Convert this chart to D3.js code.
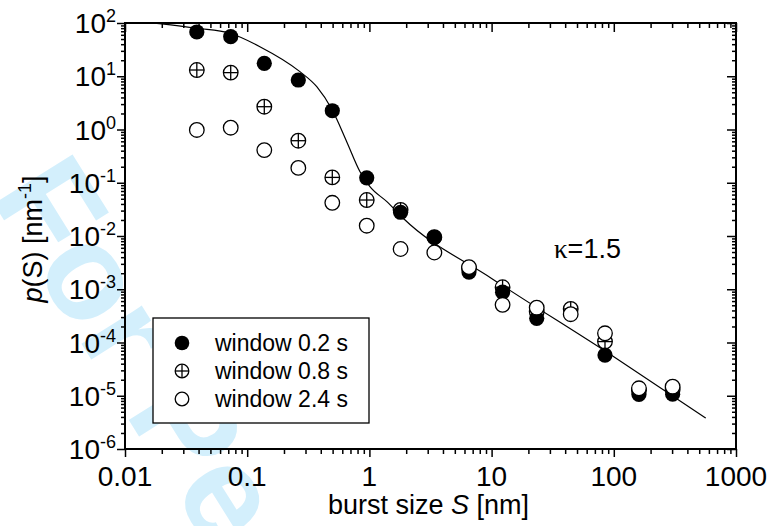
<!DOCTYPE html>
<html lang="en">
    <head>
        <meta charset="utf-8">
        <title>Burst size distribution</title>
        <script src="https://cdn.jsdelivr.net/npm/d3@7"></script>
    </head>
    <style>
        body { margin: 0; background: white; }
        text { font-family: "Liberation Sans", Arial, sans-serif; fill: black; }
    </style>
    <body>
        <script type="text/javascript">

            // burst sizes S [nm] (same bins for every window)
            var sizes = [0.0387, 0.0733, 0.138, 0.262, 0.497, 0.951, 1.80, 3.40, 6.53, 12.3, 23.4, 44.4, 84.7, 160.6, 303];

            // p(S) [nm^-1] per window, null = no point
            var p02 = [67.8, 55.3, 17.5, 8.5, 2.25, 0.124, 0.0279, 0.0094, 0.0021, 0.00088, 0.000285, null, 5.8e-5, 1.06e-5, 1.07e-5];
            var p08 = [13.1, 11.7, 2.68, 0.616, 0.126, 0.0474, 0.031, 0.0095, 0.0025, 0.00109, 3.8e-4, 4.26e-4, 1.04e-4, 1.25e-5, 1.3e-5];
            var p24 = [0.98, 1.08, 0.41, 0.19, 0.042, 0.0156, 0.0057, 0.0049, 0.0026, 0.00051, 4.5e-4, 3.4e-4, 1.49e-4, 1.38e-5, 1.48e-5];

            // fit curve (kappa = 1.5)
            var fitS = [0.015, 0.0387, 0.0723, 0.127, 0.270, 0.371, 0.497, 0.652, 0.838, 1.01, 1.39, 1.89, 10, 100, 565];
            var fitP = [104, 79.6, 64.1, 35.9, 12.2, 6.36, 2.32, 0.59, 0.161, 0.0843, 0.0441, 0.0215, 1.6e-3, 5.4e-5, 3.8e-6];

            var xTicks = [0.01, 0.1, 1, 10, 100, 1000];
            var xTickLabels = ["0.01", "0.1", "1", "10", "100", "1000"];
            var yExponents = [-6, -5, -4, -3, -2, -1, 0, 1, 2];

            var legendLabels = ["window 0.2 s", "window 0.8 s", "window 2.4 s"];

            var w = 768, h = 526;
            var pL = 125, pR = 736, pT = 23, pB = 449;   // plot frame

            var svg = d3.select("body").append("svg").attr("width", w).attr("height", h);

            // watermark
            svg.append("text")
                .text("For Peer Review")
                .attr("transform", "translate(-11,196) rotate(58)")
                .style("font-size", "135px")
                .style("font-weight", "bold")
                .style("fill", "#d3effc");

            var x = d3.scaleLog().domain([0.01, 1000]).range([pL, pR]);
            var y = d3.scaleLog().domain([1e-6, 100]).range([pB, pT]);

            // minor tick values
            var xMinor = [], yMinor = [];
            for (var e = -2; e < 3; e++) for (var k = 2; k < 10; k++) xMinor.push(k * Math.pow(10, e));
            for (var e = -6; e < 2; e++) for (var k = 2; k < 10; k++) yMinor.push(k * Math.pow(10, e));
            var yMajor = yExponents.map(function(d) { return Math.pow(10, d); });

            function ticks(g, axisFn, scale, vals, len) {
                g.append("g").call(axisFn(scale).tickValues(vals).tickSize(len).tickFormat(""));
            }

            // bottom & left: ticks outward, top & right: ticks inward
            var gB = svg.append("g").attr("transform", "translate(0," + pB + ")");
            ticks(gB, d3.axisBottom, x, xMinor, 5);
            ticks(gB, d3.axisBottom, x, xTicks, 8);
            var gT = svg.append("g").attr("transform", "translate(0," + pT + ")");
            ticks(gT, d3.axisBottom, x, xMinor, 5);
            ticks(gT, d3.axisBottom, x, xTicks, 9);
            var gL = svg.append("g").attr("transform", "translate(" + pL + ",0)");
            ticks(gL, d3.axisLeft, y, yMinor, 4);
            ticks(gL, d3.axisLeft, y, yMajor, 8);
            var gR = svg.append("g").attr("transform", "translate(" + pR + ",0)");
            ticks(gR, d3.axisLeft, y, yMinor, 4);
            ticks(gR, d3.axisLeft, y, yMajor, 9);

            svg.selectAll(".domain").remove();
            svg.selectAll(".tick line").attr("stroke", "black").attr("stroke-width", 1.5);

            // frame
            svg.append("rect")
                .attr("x", pL).attr("y", pT)
                .attr("width", pR - pL).attr("height", pB - pT)
                .attr("fill", "none").attr("stroke", "black").attr("stroke-width", 2);

            // x tick labels
            svg.selectAll("text.xlab").data(xTicks).enter().append("text")
                .attr("class", "xlab")
                .attr("x", function(d) { return x(d); })
                .attr("y", 486)
                .attr("text-anchor", "middle")
                .style("font-size", "28px")
                .text(function(d, i) { return xTickLabels[i]; });

            // y tick labels 10^n
            var yl = svg.selectAll("text.ylab").data(yExponents).enter().append("text")
                .attr("class", "ylab")
                .attr("x", 116)
                .attr("y", function(d) { return y(Math.pow(10, d)) + 10; })
                .attr("text-anchor", "end")
                .style("font-size", "28px");
            yl.append("tspan").text("10");
            yl.append("tspan").attr("dy", -11).style("font-size", "18px").text(function(d) { return d; });

            // axis titles
            var xt = svg.append("text").attr("x", 328).attr("y", 514).style("font-size", "27px");
            xt.append("tspan").text("burst size ");
            xt.append("tspan").style("font-style", "italic").text("S");
            xt.append("tspan").text(" [nm]");

            var yt = svg.append("text")
                .attr("transform", "translate(42,239) rotate(-90)")
                .attr("text-anchor", "middle")
                .style("font-size", "27px");
            yt.append("tspan").style("font-style", "italic").text("p");
            yt.append("tspan").text("(S) [nm");
            yt.append("tspan").attr("dy", -11).style("font-size", "18px").text("-1");
            yt.append("tspan").attr("dy", 11).text("]");

            // kappa
            var kt = svg.append("text").attr("x", 554).attr("y", 258).style("font-size", "27px");
            kt.append("tspan").style("font-family", "'Liberation Serif', serif").text("\u03ba");
            kt.append("tspan").text("=1.5");

            // fit line
            svg.append("clipPath").attr("id", "clip").append("rect")
                .attr("x", pL).attr("y", pT).attr("width", pR - pL).attr("height", pB - pT);
            var line = d3.line()
                .x(function(d, i) { return x(fitS[i]); })
                .y(function(d) { return y(d); })
                .curve(d3.curveMonotoneX);
            svg.append("path").datum(fitP)
                .attr("clip-path", "url(#clip)")
                .attr("d", line)
                .attr("fill", "none").attr("stroke", "black").attr("stroke-width", 1.2);

            // markers
            function crossCircle(g, cx, cy, r) {
                g.append("circle").attr("cx", cx).attr("cy", cy).attr("r", r)
                    .attr("fill", "white").attr("stroke", "black").attr("stroke-width", 1.3);
                g.append("line").attr("x1", cx - r).attr("x2", cx + r).attr("y1", cy).attr("y2", cy)
                    .attr("stroke", "black").attr("stroke-width", 1.3);
                g.append("line").attr("x1", cx).attr("x2", cx).attr("y1", cy - r).attr("y2", cy + r)
                    .attr("stroke", "black").attr("stroke-width", 1.3);
            }

            var pts = svg.append("g");
            sizes.forEach(function(s, i) {
                if (p08[i] != null) crossCircle(pts, x(s), y(p08[i]), 7.3);
            });
            sizes.forEach(function(s, i) {
                if (p02[i] != null)
                    pts.append("circle").attr("cx", x(s)).attr("cy", y(p02[i])).attr("r", 7.6).attr("fill", "black");
            });
            pts.selectAll("circle.o").data(sizes).enter()
                .append("circle").attr("class", "o")
                .attr("cx", function(d) { return x(d); })
                .attr("cy", function(d, i) { return y(p24[i]); })
                .attr("r", 7.3)
                .attr("fill", "white").attr("stroke", "black").attr("stroke-width", 1.3);

            // legend
            var lg = svg.append("g");
            lg.append("rect").attr("x", 153).attr("y", 318).attr("width", 216).attr("height", 105)
                .attr("fill", "white").attr("stroke", "black").attr("stroke-width", 1.3);
            var ly = [343, 371, 399];
            lg.append("circle").attr("cx", 182).attr("cy", ly[0]).attr("r", 7.3).attr("fill", "black");
            crossCircle(lg, 182, ly[1], 6.8);
            lg.append("circle").attr("cx", 182).attr("cy", ly[2]).attr("r", 6.8)
                .attr("fill", "white").attr("stroke", "black").attr("stroke-width", 1.3);
            lg.selectAll("text").data(legendLabels).enter().append("text")
                .attr("x", 215)
                .attr("y", function(d, i) { return ly[i] + 8; })
                .style("font-size", "23px")
                .text(function(d) { return d; });

        </script>
    </body>
</html>
